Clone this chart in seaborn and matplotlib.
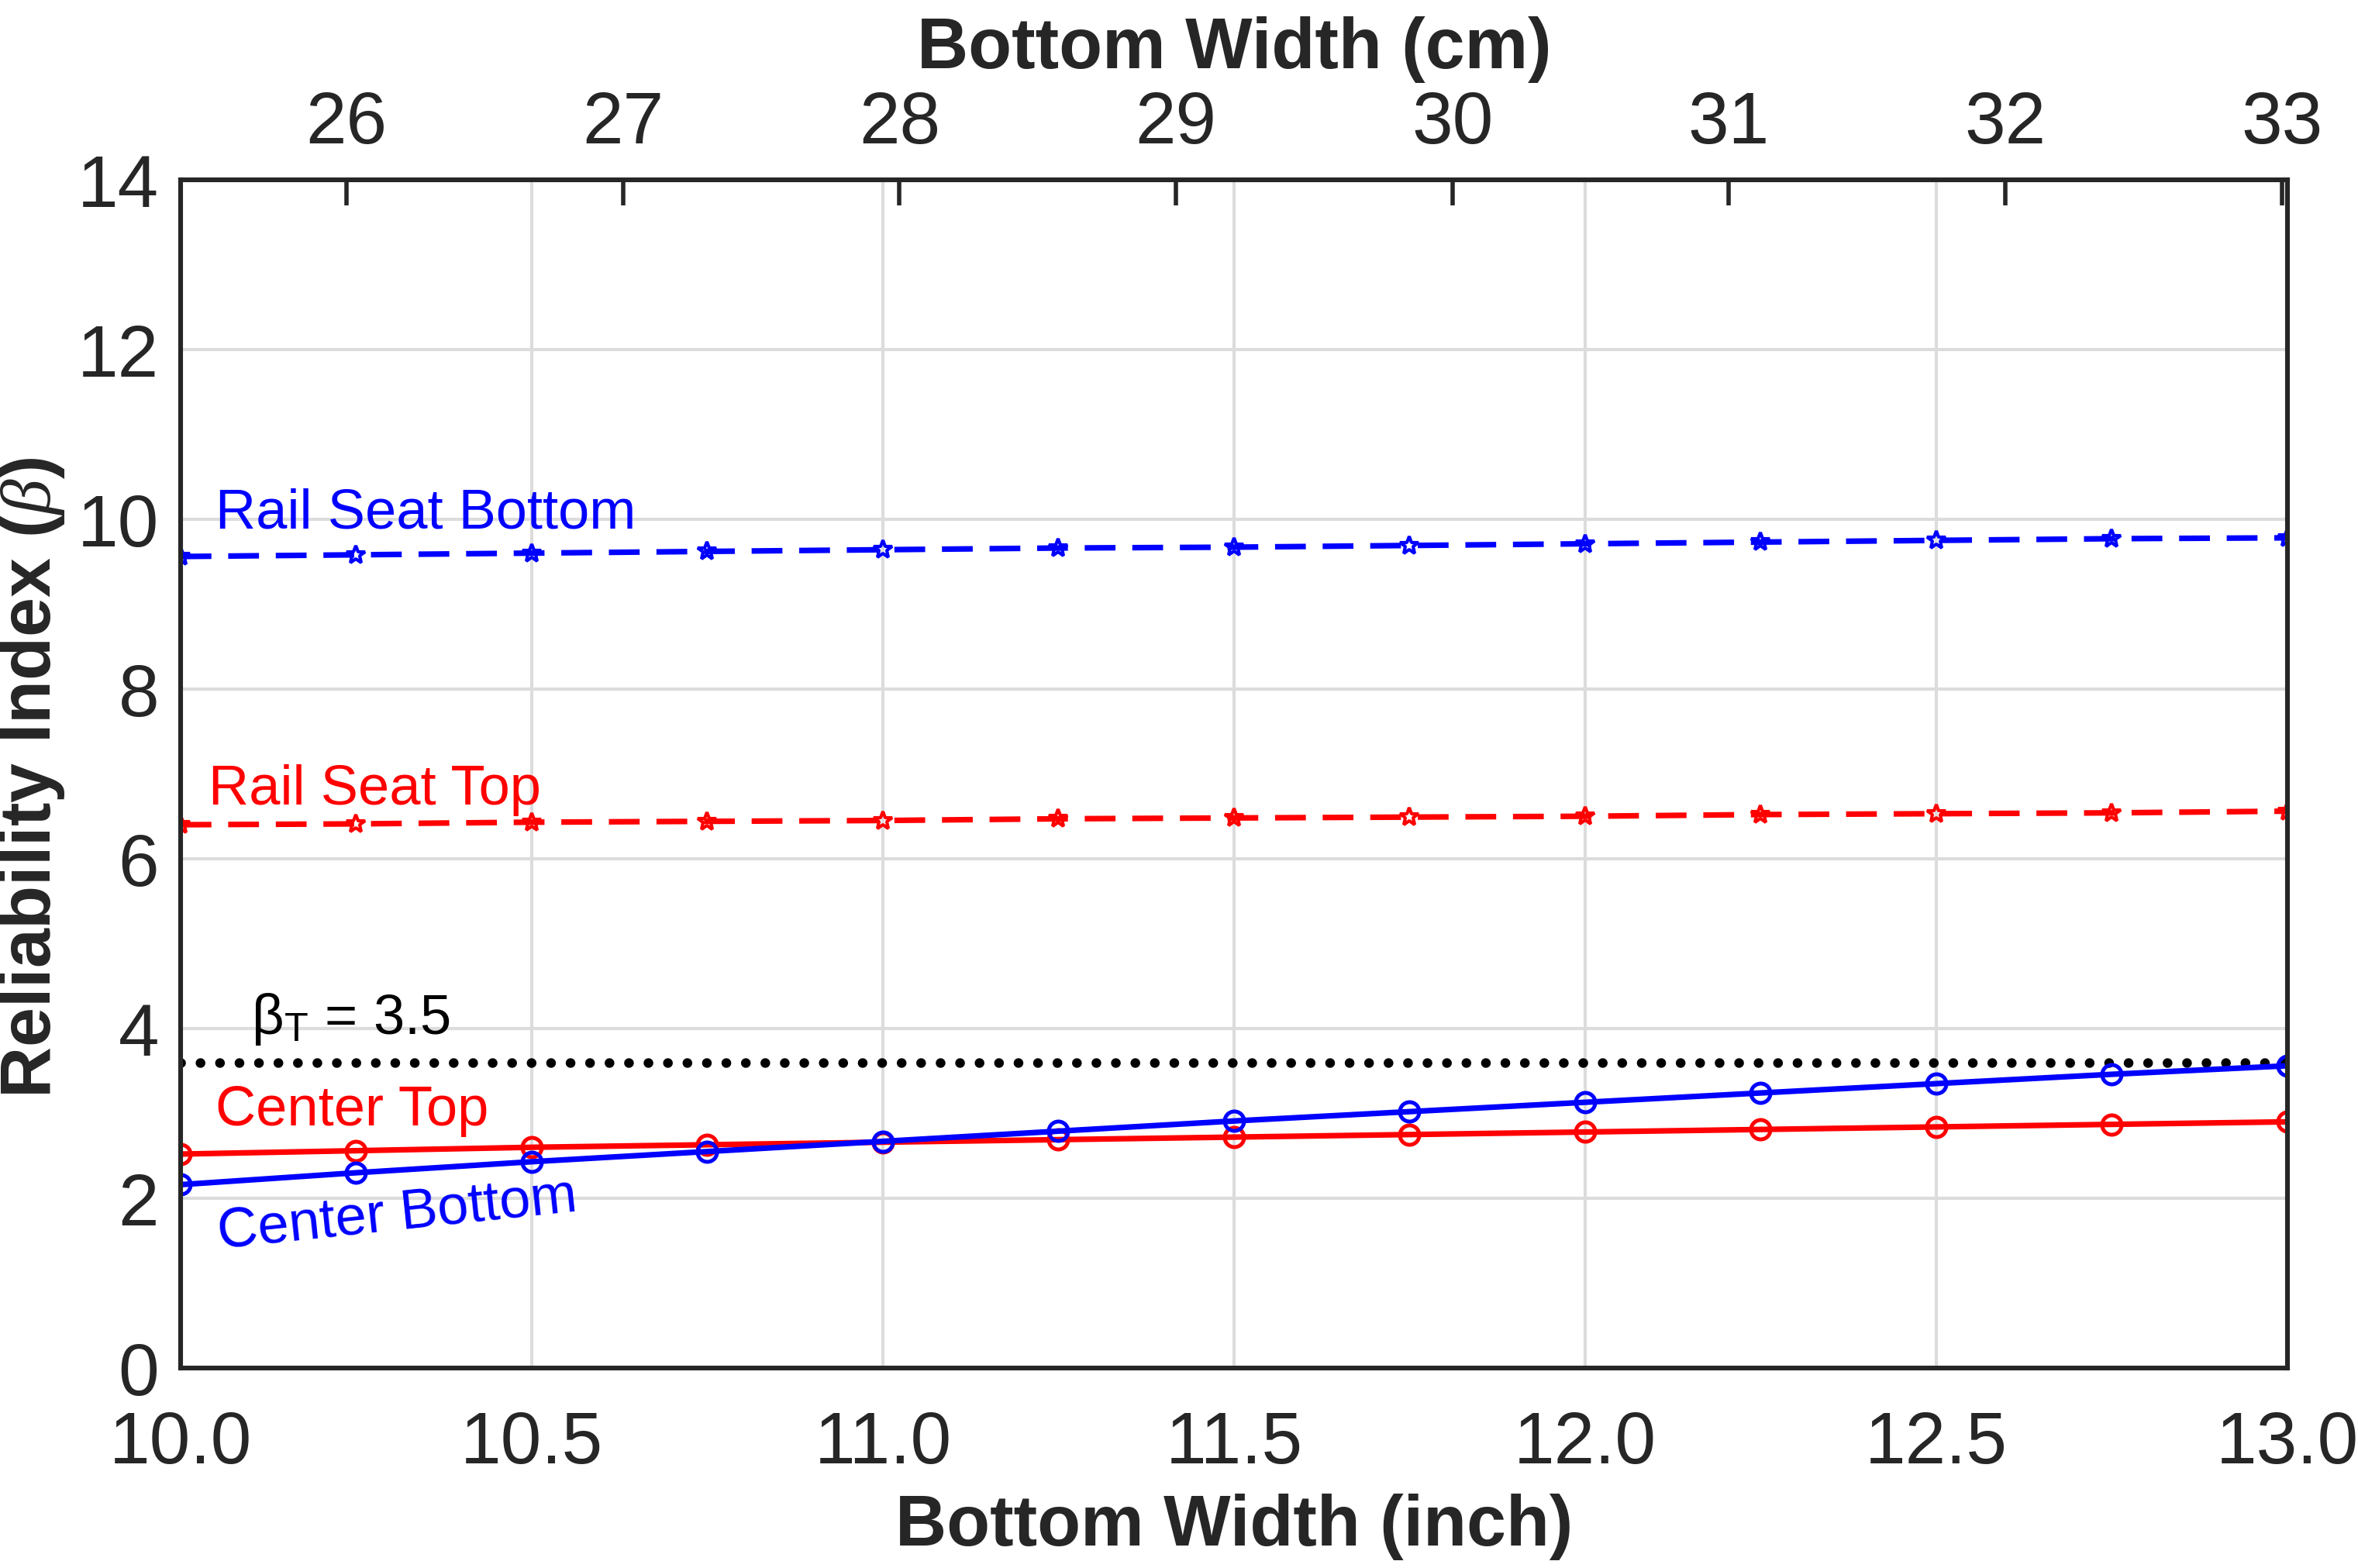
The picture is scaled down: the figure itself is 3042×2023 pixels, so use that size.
import numpy as np
import pandas as pd
import matplotlib
matplotlib.use("Agg")
import matplotlib.pyplot as plt
import seaborn as sns

# Data
width_inch = [10.0, 10.25, 10.5, 10.75, 11.0, 11.25, 11.5, 11.75, 12.0, 12.25, 12.5, 12.75, 13.0]
rail_seat_bottom = [9.56, 9.58, 9.60, 9.62, 9.64, 9.66, 9.67, 9.69, 9.71, 9.73, 9.75, 9.77, 9.78]
rail_seat_top = [6.40, 6.41, 6.43, 6.44, 6.45, 6.47, 6.48, 6.49, 6.50, 6.52, 6.53, 6.54, 6.56]
center_top = [2.52, 2.56, 2.60, 2.63, 2.66, 2.69, 2.72, 2.75, 2.78, 2.81, 2.84, 2.87, 2.90]
center_bottom = [2.16, 2.30, 2.43, 2.55, 2.67, 2.79, 2.91, 3.02, 3.13, 3.24, 3.35, 3.46, 3.56]
beta_target = 3.6
x_ticks = [10.0, 10.5, 11.0, 11.5, 12.0, 12.5, 13.0]
y_ticks = [0, 2, 4, 6, 8, 10, 12, 14]
cm_ticks = [26, 27, 28, 29, 30, 31, 32, 33]

df = pd.DataFrame({
    "width": width_inch,
    "rsb": rail_seat_bottom,
    "rst": rail_seat_top,
    "ct": center_top,
    "cb": center_bottom,
})

sns.set_style("white")
plt.rcParams["font.family"] = ["Liberation Sans", "DejaVu Sans"]
plt.rcParams["mathtext.fontset"] = "custom"
plt.rcParams["mathtext.it"] = "Liberation Serif:italic"

fig = plt.figure(figsize=(15.21, 10.12), dpi=200)
ax = fig.add_axes([0.0766, 0.1275, 0.8934, 0.7575])

blue = "#0000ff"
red = "#ff0000"
dash = (0, (5.5, 3.0))

sns.lineplot(data=df, x="width", y="rsb", ax=ax, color=blue, linestyle=dash, lw=2.6,
             marker="*", markersize=9, markeredgecolor=blue, markerfacecolor="none",
             markeredgewidth=1.5)
sns.lineplot(data=df, x="width", y="rst", ax=ax, color=red, linestyle=dash, lw=2.6,
             marker="*", markersize=9, markeredgecolor=red, markerfacecolor="none",
             markeredgewidth=1.5)
sns.lineplot(data=df, x="width", y="ct", ax=ax, color=red, lw=2.6,
             marker="o", markersize=9, markeredgecolor=red, markerfacecolor="none",
             markeredgewidth=1.8)
sns.lineplot(data=df, x="width", y="cb", ax=ax, color=blue, lw=2.6,
             marker="o", markersize=9, markeredgecolor=blue, markerfacecolor="none",
             markeredgewidth=1.8)
ax.axhline(beta_target, color="black", lw=4.5, linestyle=(0, (0.01, 2.0)),
           dash_capstyle="round", zorder=1)

ax.set_xlim(10, 13)
ax.set_ylim(0, 14)
ax.set_xticks(x_ticks)
ax.set_xticklabels([f"{t:.1f}" for t in x_ticks])
ax.set_yticks(y_ticks)
ax.grid(True, color="#dcdcdc", lw=1.5)
ax.tick_params(direction="in", length=12, width=2, labelsize=34, colors="#262626", pad=10)
ax.tick_params(axis="x", pad=19)
for s in ax.spines.values():
    s.set_color("#262626")
    s.set_linewidth(2.2)

ax.set_xlabel("Bottom Width (inch)", fontsize=33, fontweight="bold", color="#262626", labelpad=7)
ax.set_ylabel(r"Reliability Index ($\mathit{\beta}$)", fontsize=33, fontweight="bold",
              color="#262626")
ax.yaxis.set_label_coords(-0.054, 0.497)

top = ax.secondary_xaxis("top", functions=(lambda x: x * 2.54, lambda c: c / 2.54))
top.set_xticks(cm_ticks)
top.tick_params(direction="in", length=12, width=2, labelsize=34, colors="#262626", pad=10)
top.set_xlabel("Bottom Width (cm)", fontsize=33, fontweight="bold", color="#262626", labelpad=10)

# Curve labels
ax.text(10.05, 9.9, "Rail Seat Bottom", color=blue, fontsize=26)
ax.text(10.04, 6.65, "Rail Seat Top", color=red, fontsize=26)
ax.text(10.10, 3.94, r"β$_\mathregular{T}$ = 3.5", color="black", fontsize=26)
ax.text(10.05, 2.87, "Center Top", color=red, fontsize=26)
ax.text(10.055, 1.42, "Center Bottom", color=blue, fontsize=26, rotation=6,
        rotation_mode="anchor")

fig.savefig("out.png", dpi=200, facecolor="white")
